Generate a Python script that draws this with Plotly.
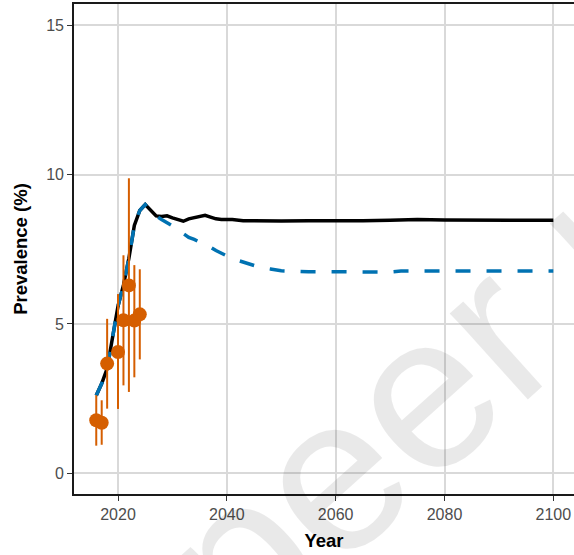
import plotly.graph_objects as go

# ---------------- data ----------------
base_years = [2016, 2017, 2018, 2019, 2020, 2021, 2022, 2023, 2024, 2025, 2026, 2027,
              2028, 2029, 2030, 2031, 2032, 2033, 2034, 2035, 2036, 2037, 2038, 2039,
              2040, 2041, 2043, 2045, 2050, 2055, 2060, 2065, 2070, 2075, 2080, 2085,
              2090, 2095, 2100]
base_vals = [2.6, 3.0, 3.5, 4.55, 5.6, 6.3, 7.2, 8.3, 8.8, 9.0, 8.8, 8.62,
             8.6, 8.62, 8.55, 8.48, 8.44, 8.52, 8.55, 8.6, 8.64, 8.58, 8.52, 8.5,
             8.5, 8.5, 8.46, 8.45, 8.45, 8.46, 8.45, 8.46, 8.47, 8.5, 8.48, 8.47,
             8.47, 8.47, 8.47]

scen_years = [2016, 2017, 2018, 2019, 2020, 2021, 2022, 2023, 2024, 2025, 2026, 2027,
              2028, 2029, 2030, 2031, 2032, 2033, 2034, 2035, 2036, 2037, 2038, 2039,
              2040, 2042, 2044, 2046, 2048, 2050, 2055, 2060, 2065, 2070, 2072, 2080,
              2090, 2100]
scen_vals = [2.6, 3.0, 3.5, 4.55, 5.6, 6.3, 7.2, 8.3, 8.8, 9.0, 8.8, 8.62,
             8.5, 8.4, 8.28, 8.15, 8.03, 7.9, 7.83, 7.75, 7.65, 7.57, 7.46, 7.36,
             7.28, 7.13, 7.0, 6.9, 6.84, 6.78, 6.75, 6.74, 6.74, 6.74, 6.77, 6.77,
             6.77, 6.77]

obs_years = [2016, 2017, 2018, 2020, 2021, 2022, 2023, 2024]
obs_vals = [1.77, 1.69, 3.67, 4.06, 5.12, 6.29, 5.11, 5.32]
obs_lo = [0.92, 0.95, 2.16, 2.15, 2.94, 2.72, 3.21, 3.81]
obs_hi = [2.61, 2.44, 5.17, 6.0, 7.3, 9.88, 6.97, 6.83]

x_ticks = [2020, 2040, 2060, 2080, 2100]
y_ticks = [0, 5, 10, 15]

x_title = "Year"
y_title = "Prevalence (%)"
watermark = "Not peer reviewed"

FONT = "Liberation Sans, Arial, Helvetica, sans-serif"
ORANGE = "#D55E00"
BLUE = "#0072B2"

fig = go.Figure()

fig.add_trace(go.Scatter(
    x=base_years, y=base_vals, mode="lines",
    line=dict(color="black", width=3.5), showlegend=False, hoverinfo="skip"))

fig.add_trace(go.Scatter(
    x=scen_years, y=scen_vals, mode="lines",
    line=dict(color=BLUE, width=3.5, dash="15px,16px"), showlegend=False, hoverinfo="skip"))

fig.add_trace(go.Scatter(
    x=obs_years, y=obs_vals, mode="markers",
    marker=dict(color=ORANGE, size=14, line=dict(width=0)),
    error_y=dict(type="data", symmetric=False,
                 array=[h - v for h, v in zip(obs_hi, obs_vals)],
                 arrayminus=[v - l for v, l in zip(obs_vals, obs_lo)],
                 color=ORANGE, thickness=2, width=0),
    showlegend=False, hoverinfo="skip"))

L, R, T, B = 74, 0, 4, 61
W, H = 574, 555
pw, ph = W - L - R, H - T - B

fig.add_annotation(
    text=watermark, xref="paper", yref="paper",
    x=(556 - L) / pw, y=(H - B - 272) / ph,
    xanchor="center", yanchor="middle", textangle=-42, showarrow=False,
    font=dict(family=FONT, size=220, color="rgba(0,0,0,0.085)"))

fig.update_layout(
    width=W, height=H,
    margin=dict(l=L, r=R, t=T, b=B, autoexpand=False),
    paper_bgcolor="white", plot_bgcolor="white",
    font=dict(family=FONT),
    xaxis=dict(
        range=[2011.91, 2103.8], tickvals=x_ticks, ticktext=[str(v) for v in x_ticks],
        showgrid=True, gridcolor="#d9d9d9", gridwidth=1.6, zeroline=False,
        showline=True, linecolor="#1a1a1a", linewidth=1.6, mirror=True,
        ticks="outside", ticklen=5, tickwidth=1.4, tickcolor="#333333",
        tickfont=dict(size=16, color="#4D4D4D", family=FONT),
        title=dict(text=x_title, font=dict(size=18.5, color="black", family=FONT, weight="bold"), standoff=12),
        automargin=False),
    yaxis=dict(
        range=[-0.70, 15.72], tickvals=y_ticks, ticktext=[str(v) for v in y_ticks],
        showgrid=True, gridcolor="#d9d9d9", gridwidth=1.6, zeroline=False,
        showline=True, linecolor="#1a1a1a", linewidth=1.6, mirror=False,
        ticks="outside", ticklen=5, tickwidth=1.4, tickcolor="#333333",
        tickfont=dict(size=16, color="#4D4D4D", family=FONT),
        title=dict(text=y_title, font=dict(size=18.5, color="black", family=FONT, weight="bold"), standoff=14),
        automargin=False),
)

fig.write_html("out.html", config={"displayModeBar": False},
               post_script="document.body.style.margin='0';document.body.style.padding='0';")
